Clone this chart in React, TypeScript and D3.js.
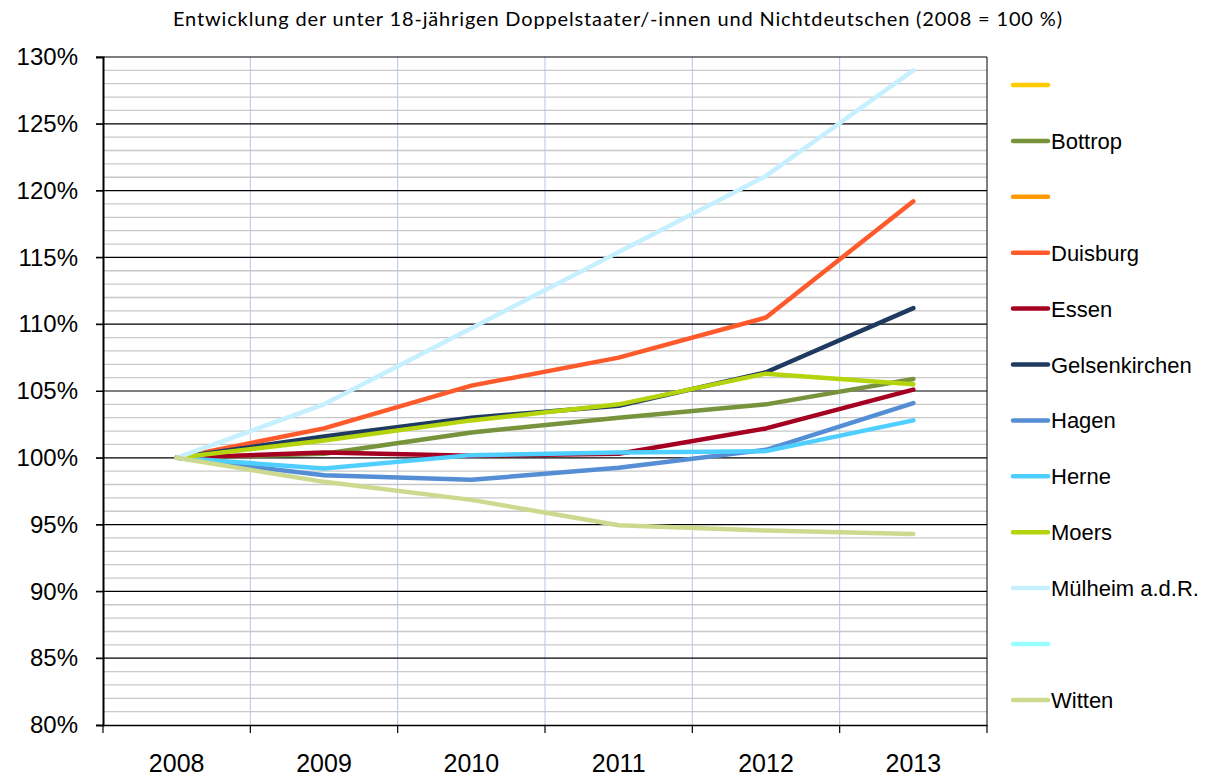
import React, { useEffect, useRef } from "react";
import * as d3 from "d3";

const years = ["2008", "2009", "2010", "2011", "2012", "2013"];

// legend order, empty names are series without label
const names = ["", "Bottrop", "", "Duisburg", "Essen", "Gelsenkirchen", "Hagen", "Herne", "Moers", "Mülheim a.d.R.", "", "Witten"];
const colors = ["#FFCC00", "#77933C", "#FF9900", "#FF5A2B", "#A50021", "#1F3A60", "#558ED5", "#4FCFFF", "#B5D40C", "#C6EFFF", "#99FFFF", "#CCD98E"];

const bottrop = [100, 100.3, 101.9, 103.0, 104.0, 105.9];
const duisburg = [100, 102.2, 105.4, 107.5, 110.5, 119.2];
const essen = [100, 100.4, 100.15, 100.3, 102.2, 105.1];
const gelsenkirchen = [100, 101.6, 103.0, 103.9, 106.4, 111.2];
const hagen = [100, 98.7, 98.35, 99.25, 100.6, 104.1];
const herne = [100, 99.2, 100.2, 100.4, 100.5, 102.8];
const moers = [100, 101.3, 102.8, 104.0, 106.3, 105.5];
const muelheim = [100, 104.0, 109.7, 115.4, 121.1, 129.0];
const witten = [100, 98.2, 96.85, 94.95, 94.55, 94.3];

const values: (number[] | null)[] = [null, bottrop, null, duisburg, essen, gelsenkirchen, hagen, herne, moers, muelheim, null, witten];

const W = 1208;
const H = 778;
const font = "'Liberation Sans', Arial, sans-serif";

export default function App() {
  const ref = useRef<SVGSVGElement>(null);

  useEffect(() => {
    const svg = d3.select(ref.current);
    svg.selectAll("*").remove();

    const left = 103, right = 987, top = 57, bottom = 725;
    const x = d3.scaleBand().domain(years).range([left, right]);
    const y = d3.scaleLinear().domain([80, 130]).range([bottom, top]);
    const cx = (d: string) => (x(d) as number) + x.bandwidth() / 2;

    svg.append("rect").attr("width", W).attr("height", H).attr("fill", "#fff");

    // title
    svg.append("text")
      .attr("x", 173).attr("y", 26)
      .attr("font-family", "Lato, 'Open Sans', sans-serif")
      .attr("font-size", 20)
      .attr("textLength", 889)
      .attr("lengthAdjust", "spacing")
      .attr("fill", "#000")
      .text("Entwicklung der unter 18-jährigen Doppelstaater/-innen und Nichtdeutschen (2008 = 100 %)");

    // minor grid
    const minor = d3.range(81, 130, 1).filter((v) => v % 5 !== 0);
    svg.append("g").selectAll("line").data(minor).enter().append("line")
      .attr("x1", left).attr("x2", right)
      .attr("y1", (d) => y(d)).attr("y2", (d) => y(d))
      .attr("stroke", "#c8c8c8").attr("stroke-width", 1.3);

    // vertical grid
    const bounds = years.slice(1).map((d) => x(d) as number);
    svg.append("g").selectAll("line").data(bounds).enter().append("line")
      .attr("x1", (d) => d).attr("x2", (d) => d)
      .attr("y1", top).attr("y2", bottom)
      .attr("stroke", "#b4c7e7").attr("stroke-width", 1);

    // major grid
    const major = d3.range(85, 131, 5);
    svg.append("g").selectAll("line").data(major).enter().append("line")
      .attr("x1", left - 7).attr("x2", right)
      .attr("y1", (d) => y(d)).attr("y2", (d) => y(d))
      .attr("stroke", "#000").attr("stroke-width", 1.2);

    // right border
    svg.append("line").attr("x1", right).attr("x2", right).attr("y1", top).attr("y2", bottom)
      .attr("stroke", "#000").attr("stroke-width", 1);

    // y axis
    const yAxis = svg.append("g").attr("transform", `translate(${left},0)`)
      .call(d3.axisLeft(y).tickValues(d3.range(80, 131, 5)).tickSize(7).tickPadding(18)
        .tickFormat((d) => `${d}%`));
    yAxis.select(".domain").attr("stroke", "#000").attr("stroke-width", 2);
    yAxis.selectAll("text").attr("font-family", font)
      .attr("font-size", 24).attr("fill", "#000");

    // x axis
    const xAxis = svg.append("g").attr("transform", `translate(0,${bottom})`)
      .call(d3.axisBottom(x).tickSize(0).tickPadding(29));
    xAxis.select(".domain").attr("stroke", "#000").attr("stroke-width", 1.5);
    xAxis.selectAll("text").attr("font-family", font)
      .attr("font-size", 25).attr("fill", "#000");
    svg.append("g").selectAll("line").data([left, ...bounds, right]).enter().append("line")
      .attr("x1", (d) => d).attr("x2", (d) => d)
      .attr("y1", bottom).attr("y2", bottom + 8)
      .attr("stroke", "#000").attr("stroke-width", 1.2);

    // series
    const line = d3.line<number>()
      .x((_, i) => cx(years[i]))
      .y((d) => y(d));
    values.forEach((vals, i) => {
      if (!vals) return;
      svg.append("path")
        .attr("d", line(vals))
        .attr("fill", "none")
        .attr("stroke", colors[i])
        .attr("stroke-width", 4.5)
        .attr("stroke-linejoin", "round")
        .attr("stroke-linecap", "round");
    });

    // legend
    const lg = svg.append("g");
    names.forEach((n, i) => {
      const ly = 85 + i * 55.9;
      lg.append("line")
        .attr("x1", 1013).attr("x2", 1048)
        .attr("y1", ly).attr("y2", ly)
        .attr("stroke", colors[i]).attr("stroke-width", 4.5)
        .attr("stroke-linecap", "round");
      if (n) {
        lg.append("text")
          .attr("x", 1051).attr("y", ly + 8)
          .attr("font-family", font)
          .attr("font-size", 22)
          .attr("fill", "#000")
          .text(n);
      }
    });
  }, []);

  return <svg ref={ref} width={W} height={H} style={{ position: "absolute", left: 0, top: 0 }} />;
}
